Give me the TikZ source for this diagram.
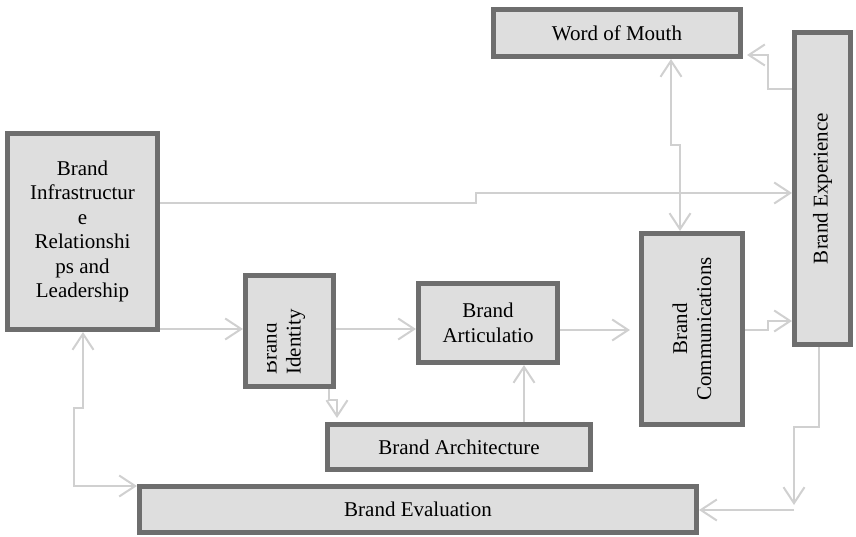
\documentclass[tikz,border=0pt]{standalone}
\usepackage{fontspec}
\setmainfont{Liberation Serif}
\usetikzlibrary{arrows.meta,calc}
\definecolor{boxfill}{RGB}{222,222,222}
\definecolor{boxline}{RGB}{110,110,110}
\definecolor{connc}{RGB}{208,208,208}
\begin{document}
\begin{tikzpicture}[x=1pt,y=-1pt,
  box/.style={draw=boxline,fill=boxfill,line width=5pt,inner sep=0pt,
    font=\fontsize{21}{24.5}\selectfont,align=center},
  rtext/.style={rotate=90,inner sep=0pt,font=\fontsize{21}{24}\selectfont},
  conn/.style={draw=connc,line width=2pt,line join=miter,
    -{Straight Barb[length=16pt,width=21pt]}},
  dconn/.style={draw=connc,line width=2pt,line join=miter,
    {Straight Barb[length=16pt,width=21pt]}-{Straight Barb[length=16pt,width=21pt]}}]
\useasboundingbox (0,0) rectangle (856,537);
% boxes
\node[box,minimum width=150pt,minimum height=196pt] (infra) at (82.5,231.5)
  {Brand\\Infrastructur\\e\\Relationshi\\ps and\\Leadership};
\node[box,minimum width=88pt,minimum height=111pt] (ident) at (289.5,331) {};
\node[box,minimum width=139pt,minimum height=79pt] (artic) at (488,323) {Brand\\Articulatio};
\node[box,minimum width=263pt,minimum height=45pt] (archi) at (459,447) {Brand Architecture};
\node[box,minimum width=101pt,minimum height=191pt] (comm) at (692,329) {};
\node[box,minimum width=56pt,minimum height=312pt] (exper) at (822.5,188.5) {};
\node[box,minimum width=247pt,minimum height=47pt] (wom) at (617,33) {Word of Mouth};
\node[box,minimum width=557pt,minimum height=46pt] (evalu) at (418,509.5) {Brand Evaluation};
% rotated texts
\begin{scope}
\clip (267.5,276) rectangle (333,386);
\node[rtext,align=left,anchor=west] (identtext) at (283.5,375) {Brand\\Identity};
\end{scope}
\node[rtext,align=center] (commtext) at (comm.center) {Brand\\Communications};
\node[rtext] (expertext) at (exper.center) {Brand Experience};
% connectors
\draw[conn] (infra.east |- 0,203) -- (476,203) -- (476,193) -- (exper.west |- 0,193);
\draw[conn] (infra.east |- 0,329) -- (ident.west |- 0,329);
\draw[conn] (ident.east |- 0,329) -- (artic.west |- 0,329);
\draw[conn,shorten >=4pt] (ident.south -| 329,0) -- (329,400) -- (337,400) -- (archi.north -| 337,0);
\draw[conn] (archi.north -| 524,0) -- (artic.south -| 524,0);
\draw[conn,shorten >=9pt] (artic.east |- 0,330) -- (comm.west |- 0,330);
\draw[dconn] (wom.south -| 671,0) -- (671,145) -- (680,145) -- (comm.north -| 680,0);
\draw[conn,shorten >=4pt] (exper.west |- 0,89) -- (768,89) -- (768,55) -- (wom.east |- 0,55);
\draw[conn] (comm.east |- 0,330) -- (768,330) -- (768,321) -- (exper.west |- 0,321);
\coordinate (evtip) at (794,505);
\coordinate (evcorner) at (794,510);
\draw[conn] (exper.south -| 819,0) -- (819,427) -- (794,427) -- (evtip);
\draw[conn] (evcorner) -- (evalu.east |- evcorner);
\draw[dconn] (infra.south -| 83,0) -- (83,408) -- (74,408) -- (74,486) -- (evalu.west |- 0,486);
\end{tikzpicture}
\end{document}
